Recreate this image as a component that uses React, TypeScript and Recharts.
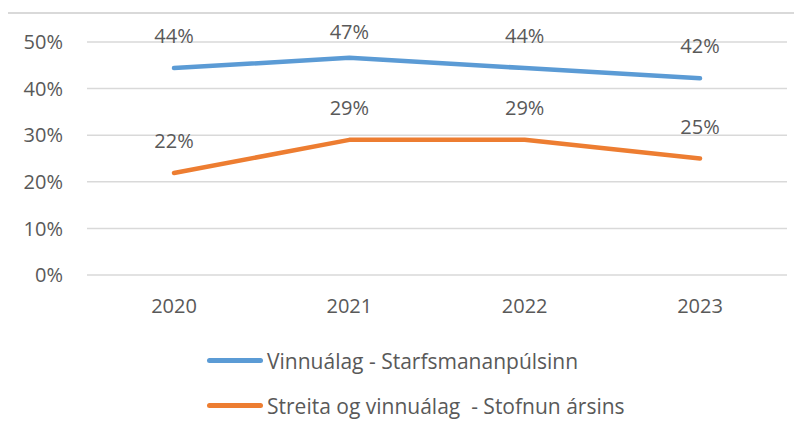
import { LineChart, Line, XAxis, YAxis, CartesianGrid, LabelList } from 'recharts';

// ár á x-ás
const years = ['2020', '2021', '2022', '2023'];

// gildi í prósentum, lesin af myndinni
const starfsmannapulsinn = [44.4, 46.6, 44.4, 42.2];
const stofnunArsins = [21.9, 29.0, 29.0, 25.0];

const yTicks = [0, 10, 20, 30, 40, 50];

const SERIES = [
  { key: 'pulsinn', name: 'Vinnuálag - Starfsmananpúlsinn', color: '#5B9BD5', values: starfsmannapulsinn },
  { key: 'stofnun', name: 'Streita og vinnuálag  - Stofnun ársins', color: '#ED7D31', values: stofnunArsins },
];

const FONT = '"Open Sans", "Noto Sans", sans-serif';
const TEXT_COLOR = '#595959';

const chartData = years.map((year, i) => ({
  year,
  pulsinn: starfsmannapulsinn[i],
  stofnun: stofnunArsins[i],
}));

const pct = (v: number) => `${Math.round(v)}%`;

// merki fyrir ofan punkt, en haldið innan teiknisvæðis eins og í Excel
const PointLabel = (props: any) => {
  const px = props.viewBox?.x ?? props.x;
  const py = props.viewBox?.y ?? props.y;
  const y = Math.max(py - 25, 39);
  return (
    <text
      x={px}
      y={y}
      textAnchor="middle"
      fill={TEXT_COLOR}
      fontSize={20}
      fontFamily={FONT}
    >
      {pct(Number(props.value))}
    </text>
  );
};

export default function App() {
  return (
    <div
      style={{
        position: 'relative',
        width: 802,
        height: 432,
        marginLeft: -8,
        marginTop: -8,
        overflow: 'hidden',
        background: '#ffffff',
        fontFamily: FONT,
      }}
    >
      <div style={{ position: 'absolute', left: 0, top: 0 }}>
        <LineChart
          width={802}
          height={432}
          data={chartData}
          margin={{ top: 42, right: 15, left: 0, bottom: 117 }}
        >
          <CartesianGrid vertical={false} stroke="#d9d9d9" strokeWidth={1.5} />
          <XAxis
            dataKey="year"
            axisLine={false}
            tickLine={false}
            tickSize={0}
            tickMargin={24}
            height={40}
            padding={{ left: 87, right: 87 }}
            tick={{ fill: TEXT_COLOR, fontSize: 20, fontFamily: FONT }}
          />
          <YAxis
            domain={[0, 50]}
            ticks={yTicks}
            tickFormatter={(v: number) => `${v}%`}
            axisLine={false}
            tickLine={false}
            tickSize={0}
            tickMargin={24}
            width={87}
            tick={{ fill: TEXT_COLOR, fontSize: 20, fontFamily: FONT }}
          />
          {SERIES.map((s) => (
            <Line
              key={s.key}
              type="linear"
              dataKey={s.key}
              name={s.name}
              stroke={s.color}
              strokeWidth={4.5}
              strokeLinecap="round"
              strokeLinejoin="round"
              dot={false}
              activeDot={false}
              isAnimationActive={false}
            >
              <LabelList dataKey={s.key} content={PointLabel} />
            </Line>
          ))}
        </LineChart>
      </div>
      {/* ytri rammi */}
      <div
        style={{
          position: 'absolute',
          left: 6,
          top: 12,
          width: 830,
          height: 460,
          border: '2px solid #d9d9d9',
          boxSizing: 'border-box',
          pointerEvents: 'none',
          zIndex: 2,
        }}
      />
      {/* skýringar */}
      <div style={{ position: 'absolute', left: 207, top: 338 }}>
        {SERIES.map((s) => (
          <div
            key={s.key}
            style={{ display: 'flex', alignItems: 'center', height: 45, color: TEXT_COLOR, fontSize: 21 }}
          >
            <span
              style={{
                display: 'inline-block',
                width: 56,
                height: 5,
                borderRadius: 3,
                background: s.color,
                marginRight: 4,
              }}
            />
            <span style={{ whiteSpace: 'pre' }}>{s.name}</span>
          </div>
        ))}
      </div>
    </div>
  );
}
